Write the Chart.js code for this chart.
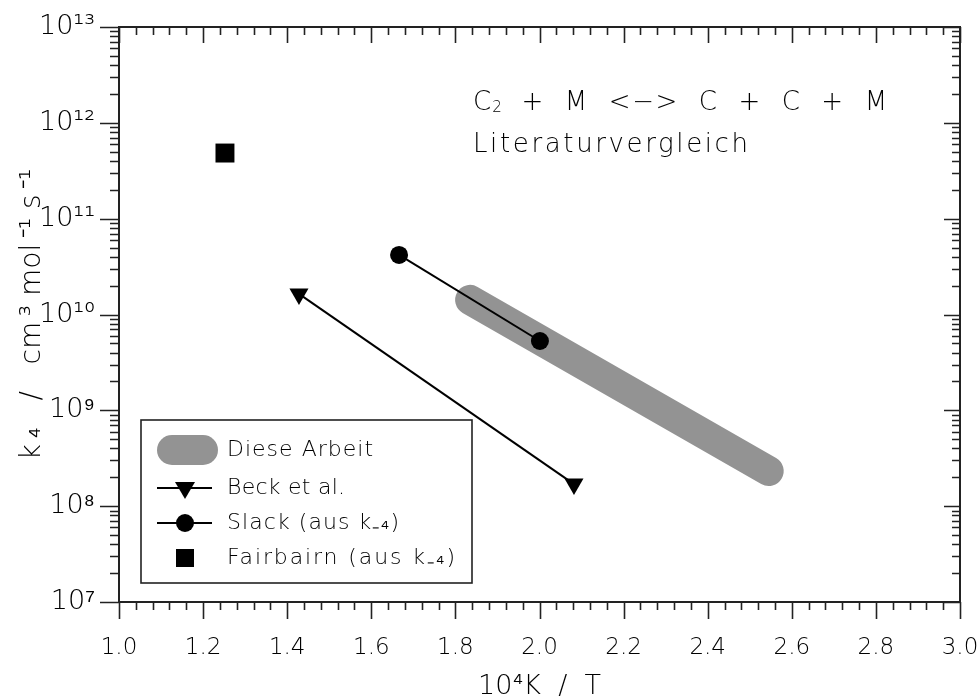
<!DOCTYPE html>
<html>
<head>
<meta charset="utf-8">
<script src="https://cdn.jsdelivr.net/npm/chart.js@4.4.0/dist/chart.umd.min.js"></script>
<style>
  html, body { margin: 0; padding: 0; background: #fff; }
</style>
</head>
<body>
<canvas id="chart" width="980" height="700"></canvas>
<script>
// === DATA ===
const dieseArbeitX = [1.835, 2.545];
const dieseArbeitY = [1.42e10, 2.33e8];
const beckX = [1.428, 2.082];
const beckY = [1.64e10, 1.70e8];
const slackX = [1.666, 2.001];
const slackY = [4.18e10, 5.29e9];
const fairbairnX = [1.252];
const fairbairnY = [4.84e11];

const seriesNames = ['Diese Arbeit', 'Beck et al.', 'Slack (aus k₋₄)', 'Fairbairn (aus k₋₄)'];
const xTickValues = [1.0, 1.2, 1.4, 1.6, 1.8, 2.0, 2.2, 2.4, 2.6, 2.8, 3.0];
const yTickValues = [1e7, 1e8, 1e9, 1e10, 1e11, 1e12, 1e13];
const yTickLabels = ['10⁷', '10⁸', '10⁹', '10¹⁰', '10¹¹', '10¹²', '10¹³'];

const FONT = "'DejaVu Sans', 'Liberation Sans', sans-serif";
const GRAY = '#939393';
const INK = '#000';

const toPoints = (xs, ys) => xs.map((x, i) => ({ x, y: ys[i] }));

// stretch a string to a given width with letter spacing
function fitText(ctx, str, x, y, width) {
  ctx.letterSpacing = '0px';
  const natural = ctx.measureText(str).width;
  const gap = (width - natural) / Math.max(1, str.length - 1);
  ctx.letterSpacing = gap.toFixed(2) + 'px';
  ctx.fillText(str, x, y);
  ctx.letterSpacing = '0px';
}

// === FRAME + TICK MARKS (bottom/left outward, top/right inward) ===
const framePlugin = {
  id: 'frame',
  afterDraw(chart) {
    const { ctx, chartArea: a, scales: { x, y } } = chart;
    ctx.save();
    ctx.strokeStyle = '#222';
    ctx.lineWidth = 2;
    ctx.strokeRect(a.left, a.top, a.right - a.left, a.bottom - a.top);

    ctx.lineWidth = 1.6;
    ctx.beginPath();
    // x ticks: major every 0.2, minor every 0.04
    for (let i = 0; i <= 50; i++) {
      const px = Math.round(x.getPixelForValue(1 + i * 0.04)) + 0.5;
      const major = i % 5 === 0;
      ctx.moveTo(px, a.bottom); ctx.lineTo(px, a.bottom + (major ? 17 : 8));
      ctx.moveTo(px, a.top); ctx.lineTo(px, a.top + (major ? 16 : 8));
    }
    // y ticks: decades + 2..9
    for (let e = 7; e <= 13; e++) {
      for (let m = 1; m <= 9; m++) {
        const v = m * Math.pow(10, e);
        if (v > 1e13) break;
        const py = Math.round(y.getPixelForValue(v)) + 0.5;
        const major = m === 1;
        ctx.moveTo(a.left, py); ctx.lineTo(a.left - (major ? 19 : 9), py);
        ctx.moveTo(a.right, py); ctx.lineTo(a.right - (major ? 16 : 8), py);
      }
    }
    ctx.stroke();
    ctx.restore();
  }
};

// === TEXT ANNOTATION + LEGEND BOX ===
const annotatePlugin = {
  id: 'annotate',
  afterDraw(chart) {
    const { ctx, chartArea: a } = chart;
    ctx.save();
    ctx.fillStyle = INK;
    ctx.textBaseline = 'alphabetic';
    ctx.textAlign = 'left';

    // reaction title
    let tx = 473, ty = 110;
    ctx.font = `200 26px ${FONT}`;
    ctx.fillText('C', tx, ty);
    tx += ctx.measureText('C').width;
    ctx.font = `200 15px ${FONT}`;
    ctx.fillText('2', tx + 1, ty + 2);
    tx += ctx.measureText('2').width + 1;
    ctx.font = `200 26px ${FONT}`;
    fitText(ctx, '  +  M  <−>  C  +  C  +  M', tx, ty, 887 - tx);
    fitText(ctx, 'Literaturvergleich', 473, 152, 275);

    // legend box
    const bx = a.left + 22, by = a.bottom - 182, bw = 331, bh = 163;
    ctx.strokeStyle = '#222';
    ctx.lineWidth = 1.6;
    ctx.strokeRect(bx, by, bw, bh);

    const sx = bx + 44, rows = [by + 30, by + 68, by + 103, by + 138];
    // Diese Arbeit: thick gray band
    ctx.lineCap = 'round';
    ctx.strokeStyle = GRAY;
    ctx.lineWidth = 30;
    ctx.beginPath(); ctx.moveTo(sx - 13, rows[0]); ctx.lineTo(sx + 18, rows[0]); ctx.stroke();
    ctx.lineCap = 'butt';
    // Beck + Slack: line with marker
    ctx.strokeStyle = INK;
    ctx.lineWidth = 2;
    [rows[1], rows[2]].forEach(r => {
      ctx.beginPath(); ctx.moveTo(sx - 28, r); ctx.lineTo(sx + 27, r); ctx.stroke();
    });
    ctx.fillStyle = '#000';
    ctx.beginPath();
    ctx.moveTo(sx - 10, rows[1] - 6); ctx.lineTo(sx + 10, rows[1] - 6); ctx.lineTo(sx, rows[1] + 11);
    ctx.closePath(); ctx.fill();
    ctx.beginPath(); ctx.arc(sx, rows[2], 9, 0, Math.PI * 2); ctx.fill();
    ctx.fillRect(sx - 9, rows[3] - 9, 18, 18);

    // legend labels
    ctx.fillStyle = INK;
    ctx.textBaseline = 'middle';
    ctx.font = `200 22px ${FONT}`;
    const widths = [146, 118, 172, 228];
    seriesNames.forEach((name, i) => fitText(ctx, name, bx + 86, rows[i], widths[i]));
    ctx.restore();
  }
};

new Chart(document.getElementById('chart'), {
  type: 'line',
  data: {
    datasets: [
      {
        label: seriesNames[0],
        data: toPoints(dieseArbeitX, dieseArbeitY),
        borderColor: GRAY,
        borderWidth: 30,
        borderCapStyle: 'round',
        pointRadius: 0,
        order: 4
      },
      {
        label: seriesNames[1],
        data: toPoints(beckX, beckY),
        borderColor: '#000',
        backgroundColor: '#000',
        borderWidth: 2,
        pointStyle: 'triangle',
        rotation: 180,
        pointRadius: 11,
        pointBorderWidth: 0,
        order: 2
      },
      {
        label: seriesNames[2],
        data: toPoints(slackX, slackY),
        borderColor: '#000',
        backgroundColor: '#000',
        borderWidth: 2,
        pointStyle: 'circle',
        pointRadius: 9,
        pointBorderWidth: 0,
        order: 1
      },
      {
        label: seriesNames[3],
        data: toPoints(fairbairnX, fairbairnY),
        borderColor: '#000',
        backgroundColor: '#000',
        showLine: false,
        pointStyle: 'rect',
        pointRadius: 13.4,
        pointBorderWidth: 0,
        order: 3
      }
    ]
  },
  options: {
    responsive: false,
    animation: false,
    devicePixelRatio: 1,
    layout: { padding: { top: 27, right: 20, left: 0, bottom: 0 } },
    plugins: {
      legend: { display: false },
      tooltip: { enabled: false }
    },
    scales: {
      x: {
        type: 'linear',
        min: 1.0,
        max: 3.0,
        grid: { display: false, drawTicks: false },
        border: { display: false },
        afterBuildTicks: s => { s.ticks = xTickValues.map(value => ({ value })); },
        afterFit: s => { s.height = 98; s.paddingLeft = 0; s.paddingRight = 0; },
        ticks: {
          padding: 32,
          color: INK,
          maxRotation: 0,
          font: { family: FONT, size: 23, weight: 200 },
          callback: v => Number(v).toFixed(1)
        },
        title: {
          display: true,
          text: '10⁴K  /  T',
          color: INK,
          font: { family: FONT, size: 27, weight: 200, lineHeight: 1 },
          padding: { top: 0, bottom: 0 }
        }
      },
      y: {
        type: 'logarithmic',
        min: 1e7,
        max: 1e13,
        grid: { display: false, drawTicks: false },
        border: { display: false },
        afterBuildTicks: s => { s.ticks = yTickValues.map(value => ({ value })); },
        afterFit: s => { s.width = 119; s.paddingTop = 0; s.paddingBottom = 0; },
        ticks: {
          padding: 24,
          color: INK,
          font: { family: FONT, size: 27, weight: 200 },
          callback: (v, i) => yTickLabels[i]
        },
        title: {
          display: true,
          text: 'k\u2009₄   /   cm\u2009³ mol\u2009⁻¹ s\u2009⁻¹',
          color: INK,
          font: { family: FONT, size: 28, weight: 200, lineHeight: 1 },
          padding: { top: 19, bottom: 0 }
        }
      }
    }
  },
  plugins: [framePlugin, annotatePlugin]
});
</script>
</body>
</html>
